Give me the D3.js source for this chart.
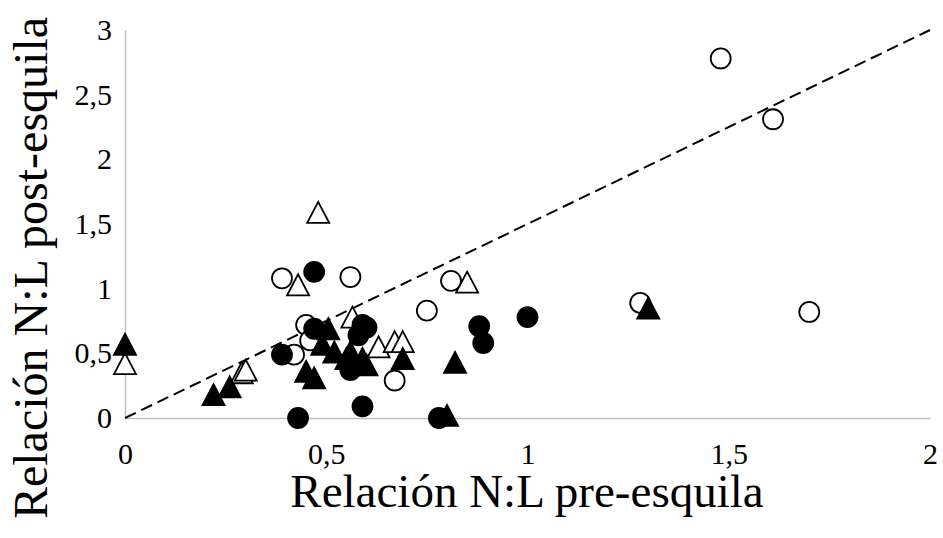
<!DOCTYPE html>
<html>
<head>
<meta charset="utf-8">
<script src="https://cdn.jsdelivr.net/npm/d3@7"></script>
<style>
  body { margin: 0; background: #fff; }
  svg text { font-family: "Liberation Serif", "Times New Roman", serif; fill: #000; }
</style>
</head>
<body>
<div id="chart"></div>
<script>
// values: [pre-esquila, post-esquila]
var openCircles = [
  [1.48, 2.78], [1.61, 2.31], [1.70, 0.82], [1.28, 0.89], [0.39, 1.08],
  [0.56, 1.09], [0.81, 1.06], [0.75, 0.83], [0.67, 0.29], [0.45, 0.72],
  [0.46, 0.60], [0.42, 0.49]
];
var openTriangles = [
  [0, 0.42], [0.29, 0.35], [0.30, 0.37], [0.48, 1.59], [0.43, 1.03],
  [0.85, 1.05], [0.565, 0.78], [0.63, 0.55], [0.67, 0.59], [0.69, 0.59]
];
var filledCircles = [
  [0.47, 1.13], [0.39, 0.49], [0.43, 0.0], [0.59, 0.09], [0.78, 0.0],
  [1.0, 0.78], [0.88, 0.71], [0.89, 0.58], [0.47, 0.69], [0.59, 0.72],
  [0.60, 0.70], [0.58, 0.64], [0.56, 0.37], [0.56, 0.42]
];
var filledTriangles = [
  [0, 0.57], [0.22, 0.18], [0.26, 0.24], [0.505, 0.69], [0.49, 0.57],
  [0.52, 0.51], [0.45, 0.36], [0.47, 0.31], [0.55, 0.46], [0.59, 0.46],
  [0.60, 0.41], [0.69, 0.46], [0.82, 0.43], [0.80, 0.02], [1.30, 0.85],
  [0.56, 0.51]
];
var xTicks = [0, 0.5, 1, 1.5, 2];
var yTicks = [0, 0.5, 1, 1.5, 2, 2.5, 3];
var refLine = [[0, 0], [2, 3]];

var width = 943, height = 538;
var margin = { top: 30, right: 13, bottom: 120, left: 125 };

var svg = d3.select("#chart").append("svg")
    .attr("width", width)
    .attr("height", height);

var x = d3.scaleLinear().domain([0, 2]).range([margin.left, width - margin.right]);
var y = d3.scaleLinear().domain([0, 3]).range([height - margin.bottom, margin.top]);

var fmt = function(d) { return String(d).replace(".", ","); };

// axes: gray lines, labels without tick marks
var xAxis = svg.append("g")
    .attr("transform", "translate(0," + y(0) + ")")
    .call(d3.axisBottom(x).tickValues(xTicks).tickSize(0).tickPadding(25).tickFormat(fmt));
xAxis.selectAll("text").style("font-size", "30px");
xAxis.select(".domain").attr("stroke", "#bfbfbf").attr("stroke-width", 1.5);

var yAxis = svg.append("g")
    .attr("transform", "translate(" + x(0) + ",0)")
    .call(d3.axisLeft(y).tickValues(yTicks).tickSize(0).tickPadding(13).tickFormat(fmt));
yAxis.selectAll("text").style("font-size", "30px");
yAxis.select(".domain").attr("stroke", "#bfbfbf").attr("stroke-width", 1.5);

// dashed reference line
svg.append("path")
    .datum(refLine)
    .attr("fill", "none")
    .attr("stroke", "#000")
    .attr("stroke-width", 2)
    .attr("stroke-dasharray", "12,6")
    .attr("d", d3.line().x(d => x(d[0])).y(d => y(d[1])));

var tri = "M0,-10.5L11,10.5L-11,10.5Z";
var circ = d3.symbol().type(d3.symbolCircle).size(Math.PI * 10 * 10)();

function drawSeries(data, shape, fill) {
  svg.append("g")
      .selectAll("path")
      .data(data)
      .enter().append("path")
      .attr("d", shape)
      .attr("transform", d => "translate(" + x(d[0]) + "," + y(d[1]) + ")")
      .attr("fill", fill)
      .attr("stroke", "#000")
      .attr("stroke-width", 1.8);
}

drawSeries(openCircles, circ, "#fff");
drawSeries(openTriangles, tri, "#fff");
drawSeries(filledCircles, circ, "#000");
drawSeries(filledTriangles, tri, "#000");

// axis titles
svg.append("text")
    .attr("x", 527)
    .attr("y", 507)
    .attr("text-anchor", "middle")
    .style("font-size", "47px")
    .text("Relación N:L pre-esquila");

svg.append("text")
    .attr("transform", "translate(47,268) rotate(-90)")
    .attr("text-anchor", "middle")
    .style("font-size", "48px")
    .text("Relación N:L post-esquila");
</script>
</body>
</html>
